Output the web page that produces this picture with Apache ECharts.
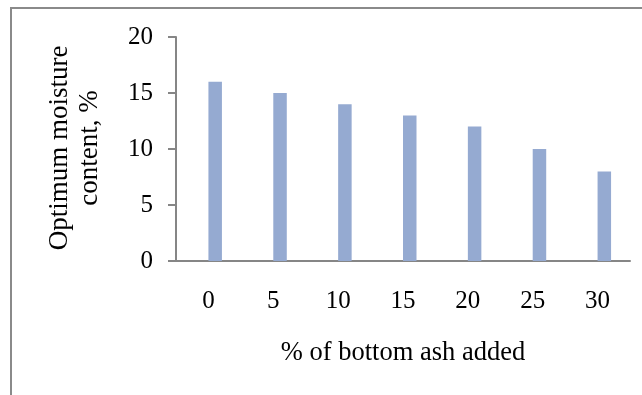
<!DOCTYPE html>
<html>
<head>
<meta charset="utf-8">
<script src="https://cdn.jsdelivr.net/npm/echarts@6/dist/echarts.min.js"></script>
<style>
  html, body { margin: 0; padding: 0; background: #fff; }
  #chart { width: 642px; height: 395px; }
</style>
</head>
<body>
<div id="chart"></div>
<script>
// Bottom ash content (%) on the x axis
const ashPercent = ['0', '5', '10', '15', '20', '25', '30'];
// Optimum moisture content (%) for each mix
const moistureContent = [16, 15, 14, 13, 12, 10, 8];
// Empty companion series: keeps each column on the right half of its slot
const emptySlot = [null, null, null, null, null, null, null];
// Value axis ticks
const yTicks = [0, 5, 10, 15, 20];

const serif = '"Liberation Serif", "Times New Roman", serif';
const chart = echarts.init(document.getElementById('chart'), null, { renderer: 'canvas' });

chart.setOption({
  animation: false,
  backgroundColor: '#ffffff',
  grid: { left: 176, top: 37, right: 12, bottom: 134, containLabel: false },
  graphic: [
    {
      type: 'rect',
      silent: true,
      shape: { x: 11, y: 8, width: 700, height: 450 },
      style: { fill: 'none', stroke: '#8a8a8a', lineWidth: 2 }
    },
    {
      type: 'text',
      x: 60, y: 148, rotation: Math.PI / 2,
      style: {
        text: 'Optimum moisture',
        font: '27px ' + serif, fill: '#000',
        align: 'center', verticalAlign: 'middle'
      }
    },
    {
      type: 'text',
      x: 90, y: 148, rotation: Math.PI / 2,
      style: {
        text: 'content, %',
        font: '27px ' + serif, fill: '#000',
        align: 'center', verticalAlign: 'middle'
      }
    }
  ],
  xAxis: {
    type: 'category',
    data: ashPercent,
    name: '% of bottom ash added',
    nameLocation: 'middle',
    nameGap: 79,
    nameTextStyle: { fontFamily: serif, fontSize: 26.5, color: '#000' },
    axisLine: { lineStyle: { color: '#868686', width: 2 } },
    axisTick: { show: false },
    axisLabel: { fontFamily: serif, fontSize: 25, color: '#000', margin: 28 },
    splitLine: { show: false }
  },
  yAxis: {
    type: 'value',
    min: yTicks[0],
    max: yTicks[yTicks.length - 1],
    interval: yTicks[1] - yTicks[0],
    axisLine: { show: true, lineStyle: { color: '#868686', width: 2 } },
    axisTick: { show: true, length: 8, lineStyle: { color: '#868686', width: 2 } },
    axisLabel: { fontFamily: serif, fontSize: 25, color: '#000', margin: 23 },
    splitLine: { show: false }
  },
  series: [
    {
      name: 'slot',
      type: 'bar',
      data: emptySlot,
      barWidth: 13.5,
      barGap: '0%',
      silent: true
    },
    {
      name: 'Optimum moisture content',
      type: 'bar',
      data: moistureContent,
      barWidth: 13.5,
      barGap: '0%',
      itemStyle: { color: '#95aad1' }
    }
  ]
});
</script>
</body>
</html>
